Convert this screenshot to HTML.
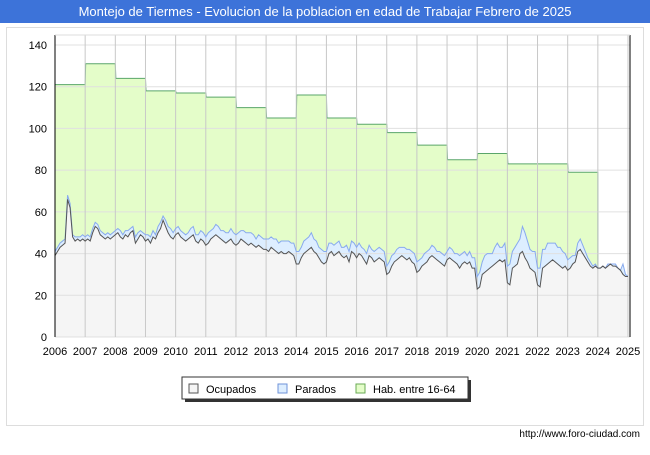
<!DOCTYPE html>
<html><head><meta charset="utf-8"><style>
body{margin:0;width:650px;height:450px;background:#fff;font-family:"Liberation Sans",sans-serif;overflow:hidden}
</style></head><body>
<svg width="650" height="450" xmlns="http://www.w3.org/2000/svg">
<rect x="0" y="0" width="650" height="23" fill="#3d73d9"/>
<text x="325" y="16" fill="#fff" font-size="13" text-anchor="middle">Montejo de Tiermes - Evolucion de la poblacion en edad de Trabajar Febrero de 2025</text>
<rect x="6.5" y="27.5" width="637" height="398" fill="none" stroke="#ddd"/>
<g id="plot"></g>
<g>
<rect x="185" y="380" width="286" height="22" fill="#333"/>
<rect x="182" y="377" width="286" height="22" fill="#fff" stroke="#333"/>
<rect x="189" y="384" width="9" height="9" fill="#f5f5f5" stroke="#555"/>
<text x="206" y="393" font-size="11">Ocupados</text>
<rect x="278" y="384" width="9" height="9" fill="#ddeeff" stroke="#6f93d8"/>
<text x="295" y="393" font-size="11">Parados</text>
<rect x="356" y="384" width="9" height="9" fill="#e4fdc9" stroke="#6aaa55"/>
<text x="373" y="393" font-size="11">Hab. entre 16-64</text>
</g>
<text x="640" y="437" font-size="10" text-anchor="end">http://www.foro-ciudad.com</text>
</svg>
<script>
const years=[2006,2007,2008,2009,2010,2011,2012,2013,2014,2015,2016,2017,2018,2019,2020,2021,2022,2023,2024,2025];
const yTicks=[0,20,40,60,80,100,120,140];
const hab=[121,131,124,118,117,115,110,105,116,105,102,98,92,85,88,83,83,79];
const ocupados=[
39,41,43,44,45,66,62,48,46,47,46,47,
46,47,46,50,53,52,49,48,47,48,47,48,
49,50,48,47,49,48,50,51,45,47,49,48,
46,47,45,48,47,50,52,56,53,50,48,47,
49,50,48,47,46,47,48,49,46,45,47,46,
44,45,47,48,49,48,47,46,45,46,47,45,
44,45,47,46,45,44,45,44,43,44,43,42,
42,41,43,42,41,40,41,40,40,41,40,39,
35,35,38,40,41,42,43,41,40,38,36,35,
36,40,41,39,40,41,39,38,39,36,41,40,
38,40,39,37,35,39,38,36,37,38,37,36,
30,31,34,36,37,38,39,38,37,38,36,35,
31,32,34,35,36,38,39,38,37,36,35,34,
37,38,37,36,35,33,35,36,35,36,33,33,
23,24,30,31,32,33,34,35,36,37,36,37,
26,25,33,34,35,40,41,38,36,33,32,31,
25,24,33,34,35,36,37,36,35,34,33,34,
32,33,35,36,41,42,40,38,36,34,33,34,
33,33,34,33,34,35,34,34,33,32,30,29,
29];
const parados=[
2,2,2,2,2,2,2,1,2,1,2,2,
2,2,2,2,2,2,2,2,2,2,2,2,
2,2,3,2,2,3,2,2,3,3,2,2,
3,2,3,3,2,3,3,2,3,3,4,3,
3,3,3,3,3,3,4,4,3,4,4,4,
4,5,4,4,5,5,4,5,5,4,5,5,
5,5,4,5,5,6,5,5,4,5,5,5,
5,6,5,5,6,5,5,6,6,5,5,6,
6,6,5,6,6,6,7,6,6,5,6,6,
5,5,4,5,5,5,4,5,5,5,5,5,
5,5,4,5,5,5,4,5,5,5,5,5,
4,5,5,4,5,5,4,5,5,4,5,5,
5,5,4,5,5,4,5,5,4,5,5,5,
4,5,5,4,5,6,5,5,4,5,5,5,
6,7,6,8,8,7,6,8,9,6,7,8,
8,10,8,9,10,7,12,12,10,9,9,10,
8,9,9,8,10,9,8,9,8,9,8,6,
5,5,4,3,4,5,4,3,2,2,1,1,
0,0,0,0,1,0,1,1,0,0,5,1,
0];
const X0=55,X1=628,Y0=337,Y1=45;
const xs=t=>X0+(t-2006)/(2025-2006)*(X1-X0);
const ys=v=>Y0-v/140*(Y0-Y1);
const NS='http://www.w3.org/2000/svg';
const g=document.getElementById('plot');
function el(tag,attrs,parent){const e=document.createElementNS(NS,tag);for(const k in attrs)e.setAttribute(k,attrs[k]);(parent||g).appendChild(e);return e;}
el('rect',{x:X0,y:35,width:X1-X0+2,height:Y0-35,fill:'#fff'});
// hab area
let hp=`M${xs(2006)},${Y0}`;
hab.forEach((v,i)=>{hp+=` L${xs(2006+i)},${ys(v)} L${xs(2007+i)},${ys(v)}`;});
const endH=2006+hab.length;
hp+=` L${xs(endH)},${Y0} Z`;
let habA=el('path',{d:hp,fill:'#e4fdc9'});


let hl=`M${xs(2006)},${ys(hab[0])}`;
hab.forEach((v,i)=>{hl+=` L${xs(2006+i)+0.5},${ys(v)} L${xs(2007+i)},${ys(v)}`;});
const mi=(endH-2006)*12;
hl+=` L${xs(endH)},${ys(ocupados[mi]+parados[mi])}`;
let habL=el('path',{d:hl,fill:'none',stroke:'#5aa66a','stroke-width':1});


const tm=i=>xs(2006+i/12);
// parados area
let pp=`M${tm(0)},${Y0}`;ocupados.forEach((v,i)=>pp+=` L${tm(i)},${ys(v+parados[i])}`);pp+=` L${tm(ocupados.length-1)},${Y0} Z`;
let pa=el('path',{d:pp,fill:'#ddeeff'});


let op=`M${tm(0)},${Y0}`;ocupados.forEach((v,i)=>op+=` L${tm(i)},${ys(v)}`);op+=` L${tm(ocupados.length-1)},${Y0} Z`;
let oa=el('path',{d:op,fill:'#f5f5f5'});


// grid
yTicks.forEach(v=>{let l=el('line',{x1:X0,x2:X1+2,y1:ys(v),y2:ys(v),stroke:'#e0e0e0'});


let t=el('text',{x:47,y:ys(v)+4,'font-size':11,'text-anchor':'end'});t.textContent=v;

});
years.forEach(y=>{let l=el('line',{x1:xs(y),x2:xs(y),y1:35,y2:Y0,stroke:'#c8c8c8'});


let t=el('text',{x:xs(y),y:355,'font-size':11,'text-anchor':'middle'});t.textContent=y;

});
// lines
let pl='';ocupados.forEach((v,i)=>pl+=(i?' L':'M')+tm(i)+','+ys(v+parados[i]));
let pL=el('path',{d:pl,fill:'none',stroke:'#88aaee','stroke-width':1});


let ol='';ocupados.forEach((v,i)=>ol+=(i?' L':'M')+tm(i)+','+ys(v));
let oL=el('path',{d:ol,fill:'none',stroke:'#555','stroke-width':1});


el('line',{x1:X0,x2:X0,y1:35,y2:Y0,stroke:'#000'});
el('line',{x1:X1+2,x2:X1+2,y1:35,y2:Y0,stroke:'#000'});
el('line',{x1:X0,x2:X1+2,y1:35,y2:35,stroke:'#ddd'});
</script>
</body></html>
